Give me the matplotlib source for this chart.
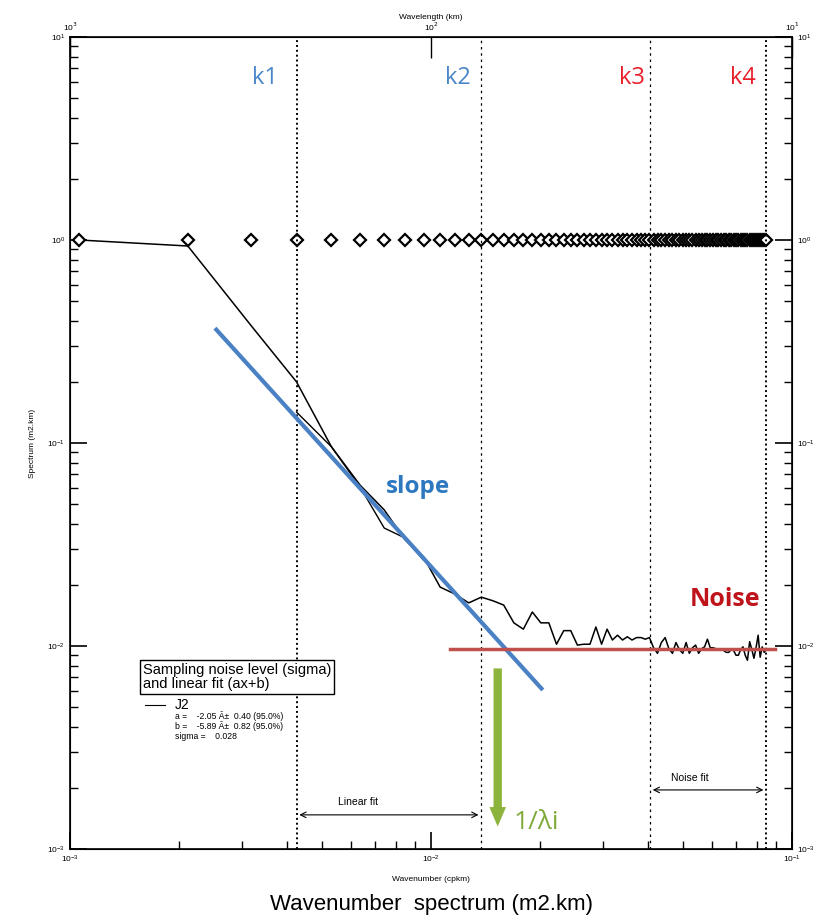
import numpy as np
import matplotlib; matplotlib.use("Agg")
import matplotlib.pyplot as plt
from matplotlib.ticker import LogLocator, NullFormatter

plt.rcParams["font.family"] = ["Liberation Sans", "DejaVu Sans"]

# wavenumber bins (cpkm)
wavenumber = [0.00106, 0.00212, 0.00318, 0.00424, 0.0053, 0.00636, 0.00742, 0.00848, 0.00954, 0.0106,
              0.01166, 0.01272, 0.01378, 0.01484, 0.0159, 0.01696, 0.01802, 0.01908, 0.02014, 0.0212,
              0.02226, 0.02332, 0.02438, 0.02544, 0.0265, 0.02756, 0.02862, 0.02968, 0.03074, 0.0318,
              0.03286, 0.03392, 0.03498, 0.03604, 0.0371, 0.03816, 0.03922, 0.04028, 0.04134, 0.0424,
              0.04346, 0.04452, 0.04558, 0.04664, 0.0477, 0.04876, 0.04982, 0.05088, 0.05194, 0.053,
              0.05406, 0.05512, 0.05618, 0.05724, 0.0583, 0.05936, 0.06042, 0.06148, 0.06254, 0.0636,
              0.06466, 0.06572, 0.06678, 0.06784, 0.0689, 0.06996, 0.07102, 0.07208, 0.07314, 0.0742,
              0.07526, 0.07632, 0.07738, 0.07844, 0.0795, 0.08056, 0.08162, 0.08268, 0.08374, 0.0848]
spectrum = [1.0, 0.934, 0.377, 0.20, 0.0957, 0.062, 0.0468, 0.0333, 0.0274, 0.0195,
            0.018, 0.0163, 0.0174, 0.0167, 0.0159, 0.0130, 0.0121, 0.0147, 0.0130, 0.0130,
            0.0102, 0.0119, 0.0119, 0.0101, 0.0102, 0.0102, 0.0124, 0.0102, 0.0121, 0.0107,
            0.0113, 0.0107, 0.0111, 0.0107, 0.0110, 0.0110, 0.0108, 0.0110, 0.0098, 0.0092,
            0.0104, 0.0110, 0.0097, 0.0092, 0.0104, 0.0096, 0.0092, 0.0104, 0.0092, 0.0098,
            0.0101, 0.0092, 0.0097, 0.0099, 0.0108, 0.0098, 0.0098, 0.0097, 0.0096, 0.0096,
            0.0095, 0.0093, 0.0093, 0.0096, 0.0095, 0.0090, 0.0090, 0.0096, 0.0099, 0.0090,
            0.0085, 0.0105, 0.0096, 0.0087, 0.0098, 0.0113, 0.0088, 0.0099, 0.0093, 0.0096]
# second trace inside the linear-fit range
seg_k = [0.00424, 0.0053, 0.00636, 0.00742, 0.00848, 0.00954]
seg_s = [0.142, 0.0957, 0.0607, 0.0381, 0.034, 0.0265]

fit_k = [0.00252, 0.0204]
fit_s = [0.368, 0.00607]
noise_k = [0.0113, 0.0898]
noise_level = 0.0097
k_marks = [0.00424, 0.01378, 0.0404, 0.0848]
k_names = ["k1", "k2", "k3", "k4"]
lambda_k = 0.0153
arrow_s = [0.0080, 0.00125]

fig = plt.figure(figsize=(8.21, 9.18), dpi=100)
ax = fig.add_axes([0.0853, 0.0752, 0.8794, 0.8845])
ax.set_xscale("log"); ax.set_yscale("log")
ax.set_xlim(1e-3, 1e-1); ax.set_ylim(1e-3, 1e1)

ax.plot(wavenumber, spectrum, color="black", lw=1.1)
ax.plot(seg_k, seg_s, color="black", lw=1.0)
ax.plot(wavenumber, [1.0]*len(wavenumber), ls="none", marker="D", ms=6.5,
        mfc="white", mec="black", mew=1.6)

# k lines
styles = [(0, (1, 1.5)), (0, (2, 3)), (0, (2, 3)), (0, (1, 1.5))]
widths = [1.4, 0.9, 0.9, 1.4]
for k, st, w in zip(k_marks, styles, widths):
    ax.axvline(k, color="black", ls=st, lw=w)

ax.plot(fit_k, fit_s, color="#4a80c4", lw=3, solid_capstyle="butt")
ax.plot(noise_k, [noise_level]*2, color="#c0504d", lw=2.5)
ax.annotate("", xy=(lambda_k, arrow_s[1]), xytext=(lambda_k, arrow_s[0]),
            arrowprops=dict(arrowstyle="simple,head_width=1.2,head_length=1.4,tail_width=0.6",
                            color="#8cb33c", lw=0))

for name, x in zip(k_names, [0.270, 0.537, 0.778, 0.932]):
    col = "#4a86c8" if name in ("k1", "k2") else "#e8202a"
    ax.text(x, 0.9495, name, transform=ax.transAxes, color=col, fontsize=17,
            ha="center", va="center", family=["Open Sans", "DejaVu Sans"])
ax.text(0.482, 0.446, "slope", transform=ax.transAxes, color="#2e78c0", fontsize=17.5,
        ha="center", va="center", fontweight="bold", family=["Open Sans", "DejaVu Sans"])
ax.text(0.907, 0.307, "Noise", transform=ax.transAxes, color="#c0141c", fontsize=18,
        ha="center", va="center", fontweight="bold", family=["Open Sans", "DejaVu Sans"])
ax.text(0.614, 0.033, "1/λi", transform=ax.transAxes, color="#7faa3a", fontsize=19,
        ha="left", va="center", family=["Open Sans", "DejaVu Sans"])

# legend block
ax.text(0.101, 0.212, "Sampling noise level (sigma)\nand linear fit (ax+b)", transform=ax.transAxes,
        fontsize=10.5, va="center", ha="left", linespacing=1.0,
        bbox=dict(boxstyle="square,pad=0.2", fc="white", ec="black", lw=1))
ax.plot([0.104, 0.132], [0.177, 0.177], color="black", lw=0.8, transform=ax.transAxes)
ax.text(0.145, 0.177, "J2", transform=ax.transAxes, fontsize=10, va="center")
ax.text(0.145, 0.1635, "a =    -2.05 Â±  0.40 (95.0%)", transform=ax.transAxes, fontsize=6.2, va="center")
ax.text(0.145, 0.1510, "b =    -5.89 Â±  0.82 (95.0%)", transform=ax.transAxes, fontsize=6.2, va="center")
ax.text(0.145, 0.1385, "sigma =    0.028", transform=ax.transAxes, fontsize=6.2, va="center")

# fit-range arrows
ax.annotate("", xy=(k_marks[0], 0.042), xytext=(k_marks[1], 0.042),
            xycoords=("data", "axes fraction"), textcoords=("data", "axes fraction"),
            arrowprops=dict(arrowstyle="<->", color="black", lw=0.8))
ax.text(0.399, 0.058, "Linear fit", transform=ax.transAxes, fontsize=7.5, ha="center", va="center")
ax.annotate("", xy=(k_marks[2], 0.0727), xytext=(k_marks[3], 0.0727),
            xycoords=("data", "axes fraction"), textcoords=("data", "axes fraction"),
            arrowprops=dict(arrowstyle="<->", color="black", lw=0.8))
ax.text(0.859, 0.087, "Noise fit", transform=ax.transAxes, fontsize=7.5, ha="center", va="center")

# axes / ticks
for s in ax.spines.values():
    s.set_linewidth(1.2)
ax.tick_params(which="both", direction="in", labelsize=6, top=False, right=True, labelright=True)
ax.tick_params(which="major", length=12, width=1.2)
ax.tick_params(which="minor", length=6, width=1.0)
ax.yaxis.set_minor_locator(LogLocator(base=10, subs=np.arange(2, 10)))
ax.xaxis.set_minor_locator(LogLocator(base=10, subs=np.arange(2, 10)))
ax.xaxis.set_minor_formatter(NullFormatter()); ax.yaxis.set_minor_formatter(NullFormatter())
ax.set_ylabel("Spectrum (m2.km)", fontsize=6, labelpad=8)
ax.set_xlabel("Wavenumber (cpkm)", fontsize=6, labelpad=8)

top = ax.twiny()
top.set_xscale("log"); top.set_xlim(1e-3, 1e-1)
top.set_xticks([1e-3, 1e-2, 1e-1])
top.set_xticklabels(["10$^3$", "10$^2$", "10$^1$"])
top.xaxis.set_minor_locator(plt.NullLocator())
top.tick_params(direction="in", length=15, width=1.0, labelsize=6, pad=3)
top.set_xlabel("Wavelength (km)", fontsize=6, labelpad=1)

fig.text(0.526, 0.0142, "Wavenumber  spectrum (m2.km)", ha="center", va="center", fontsize=16)

plt.savefig("out.png", dpi=100)
